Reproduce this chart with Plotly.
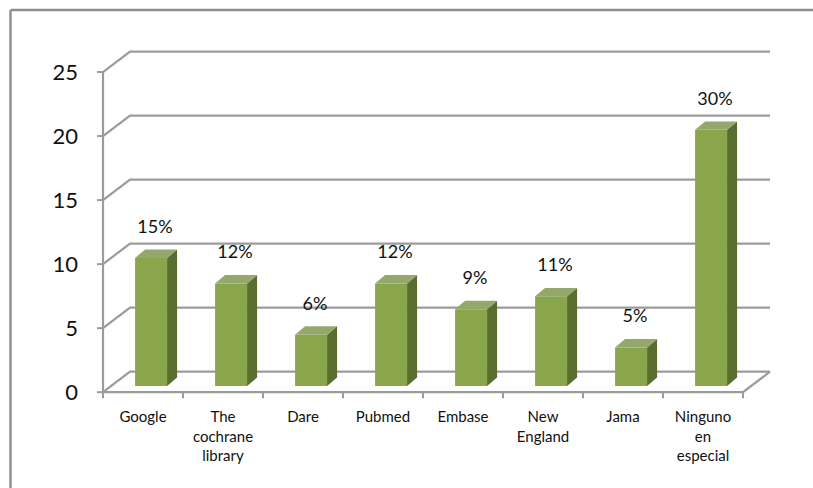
import plotly.graph_objects as go

categories = ["Google", "The<br>cochrane<br>library", "Dare", "Pubmed", "Embase",
              "New<br>England", "Jama", "Ninguno<br>en<br>especial"]
values = [10, 8, 4, 8, 6, 7, 3, 20]
labels = ["15%", "12%", "6%", "12%", "9%", "11%", "5%", "30%"]
y_ticks = [0, 5, 10, 15, 20, 25]

# pseudo-3D geometry (in axis units)
DX, DY = 0.3375, 1.6          # wall depth
BX0, BY0 = 0.101, 0.484       # bar front-face offset
BW = 0.4                      # bar width
BDX, BDY = 0.125, 0.66        # bar depth
X0, X1 = -0.5, 7.5

GRID = "#9b9b9b"
FRONT = "#8aa64c"
SIDE = "#596d2e"
TOP = "#94a86c"
FONT = "Lato"

fig = go.Figure()

# back wall gridlines + left wall diagonals
for v in y_ticks:
    fig.add_trace(go.Scatter(
        x=[X0, X0 + DX, X1 + DX], y=[v, v + DY, v + DY],
        mode="lines", line=dict(color=GRID, width=2.2),
        hoverinfo="skip", showlegend=False))
    # y tick marks
    fig.add_trace(go.Scatter(
        x=[X0 - 0.075, X0], y=[v, v], mode="lines",
        line=dict(color=GRID, width=2), hoverinfo="skip", showlegend=False))

# floor: front edge + right diagonal
fig.add_trace(go.Scatter(
    x=[X0, X1, X1 + DX], y=[0, 0, DY], mode="lines",
    line=dict(color=GRID, width=2.2), hoverinfo="skip", showlegend=False))
# front y axis line
fig.add_trace(go.Scatter(
    x=[X0, X0], y=[0, y_ticks[-1]], mode="lines",
    line=dict(color=GRID, width=2.2), hoverinfo="skip", showlegend=False))
# x tick marks at category boundaries
for k in range(len(categories) + 1):
    b = X0 + k
    fig.add_trace(go.Scatter(
        x=[b, b], y=[0, -0.47], mode="lines",
        line=dict(color=GRID, width=2), hoverinfo="skip", showlegend=False))

# bars: front, side and top faces
for i, v in enumerate(values):
    xl = i + BX0 - BW / 2
    xr = i + BX0 + BW / 2
    fig.add_trace(go.Scatter(
        x=[xl, xr, xr, xl, xl],
        y=[BY0, BY0, v + BY0, v + BY0, BY0],
        fill="toself", fillcolor=FRONT, mode="lines", line=dict(width=0, color=FRONT),
        hoverinfo="skip", showlegend=False))
    fig.add_trace(go.Scatter(
        x=[xr, xr + BDX, xr + BDX, xr, xr],
        y=[BY0, BY0 + BDY, v + BY0 + BDY, v + BY0, BY0],
        fill="toself", fillcolor=SIDE, mode="lines", line=dict(width=0, color=SIDE),
        hoverinfo="skip", showlegend=False))
    fig.add_trace(go.Scatter(
        x=[xl, xr, xr + BDX, xl + BDX, xl],
        y=[v + BY0, v + BY0, v + BY0 + BDY, v + BY0 + BDY, v + BY0],
        fill="toself", fillcolor=TOP, mode="lines", line=dict(width=0, color=TOP),
        hoverinfo="skip", showlegend=False))

# data labels
fig.add_trace(go.Scatter(
    x=[i + 0.15 for i in range(len(values))], y=[v + 2.8 for v in values],
    mode="text", text=labels, textposition="middle center",
    textfont=dict(family=FONT, size=18, color="#111111"),
    hoverinfo="skip", showlegend=False))

L, T = 95, 40
W_PLOT = 8.5 * 80
H_PLOT = 28.5 * 12.8
R = 813 - L - W_PLOT
B = 488 - T - H_PLOT

y_top = (H_PLOT + T - 10) / H_PLOT
x_left = (10.5 - L) / W_PLOT

fig.update_layout(
    width=813, height=488,
    margin=dict(l=L, r=R, t=T, b=B, pad=0),
    paper_bgcolor="white", plot_bgcolor="white",
    xaxis=dict(range=[-0.6, 7.9], tickvals=list(range(len(categories))),
               ticktext=categories, showgrid=False, zeroline=False, showline=False,
               ticks="", tickfont=dict(family=FONT, size=15, color="#111111"),
               ticklabelstandoff=1, fixedrange=True),
    yaxis=dict(range=[-1, 27.5], tickvals=y_ticks, ticktext=[str(v) for v in y_ticks],
               showgrid=False, zeroline=False, showline=False, ticks="",
               tickfont=dict(family=FONT, size=22, color="#111111"),
               ticklabelstandoff=16, fixedrange=True),
    shapes=[
        dict(type="line", xref="paper", yref="paper",
             x0=x_left, x1=x_left, y0=y_top, y1=-(B + 5) / H_PLOT,
             line=dict(color="#8c8c8c", width=2.4)),
        dict(type="line", xref="paper", yref="paper",
             x0=x_left, x1=(813 + 5 - L) / W_PLOT, y0=y_top, y1=y_top,
             line=dict(color="#8c8c8c", width=2.4)),
    ],
)

fig.write_html("out.html")
